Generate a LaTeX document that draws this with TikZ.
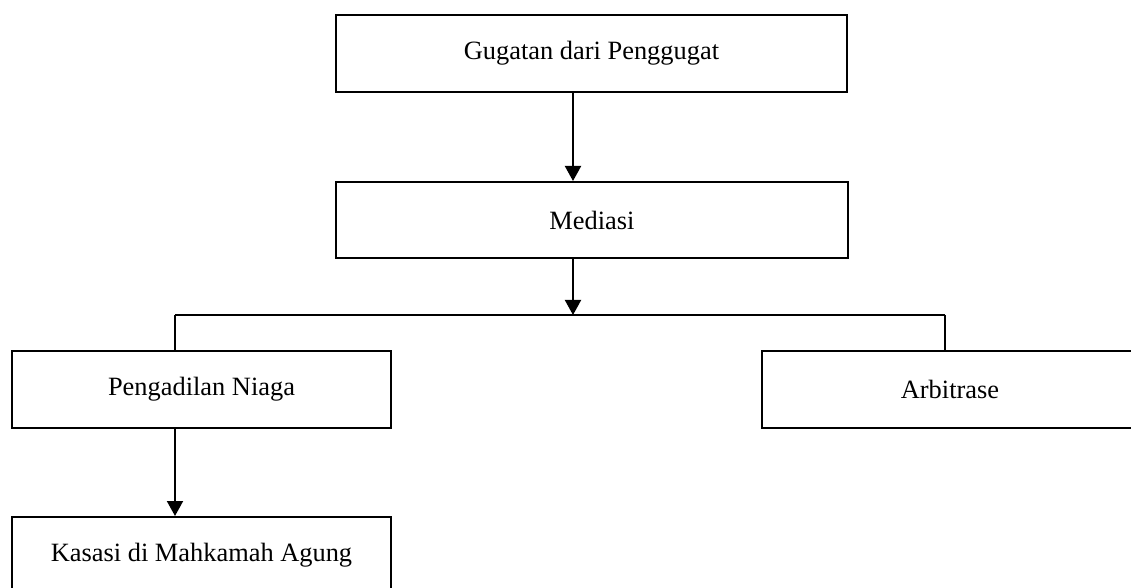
\documentclass[tikz,border=0pt]{standalone}
\usepackage{fontspec}
\setmainfont{Liberation Serif}
\usetikzlibrary{arrows.meta, positioning}
\tikzstyle{stagebox} = [draw=black, fill=white, line width=1pt,
    rectangle, inner sep=0pt, minimum height=38.5pt,
    font=\fontsize{13.2}{16}\selectfont]
\tikzstyle{flowArrow} = [line width=1pt, -{Triangle[length=7.5pt, width=8pt]}]
\tikzstyle{branchLine} = [line width=1pt]

\begin{document}
\begin{tikzpicture}[x=0.5pt, y=-0.5pt]
\useasboundingbox (0,0) rectangle (1131,588);
\clip (0,0) rectangle (1131,588);

\node[stagebox, minimum width=255.5pt] (gugatan) at (591.5,53.5) {Gugatan dari Penggugat};
\node[stagebox, minimum width=256pt, minimum height=38pt] (mediasi) at (592,220) {Mediasi};
\node[stagebox, minimum width=189.5pt] (niaga) at (201.5,389.5) {Pengadilan Niaga};
\node[stagebox, minimum width=188pt] (arbitrase) at (950,389.5) {Arbitrase};
\node[stagebox, minimum width=189.5pt] (kasasi) at (201.5,555.5) {Kasasi di Mahkamah Agung};

% branching points
\coordinate (split) at (573,315);
\coordinate (lbranch) at (175,315);
\coordinate (rbranch) at (945,315);

\draw[flowArrow] (gugatan.south -| split) -- (mediasi.north -| split);
\draw[flowArrow] (mediasi.south -| split) -- (split);
\draw[branchLine] (lbranch) -- (rbranch);
\draw[branchLine] (lbranch) -- (niaga.north -| lbranch);
\draw[branchLine] (rbranch) -- (arbitrase.north -| rbranch);
\draw[flowArrow] (niaga.south -| lbranch) -- (kasasi.north -| lbranch);
\end{tikzpicture}
\end{document}
